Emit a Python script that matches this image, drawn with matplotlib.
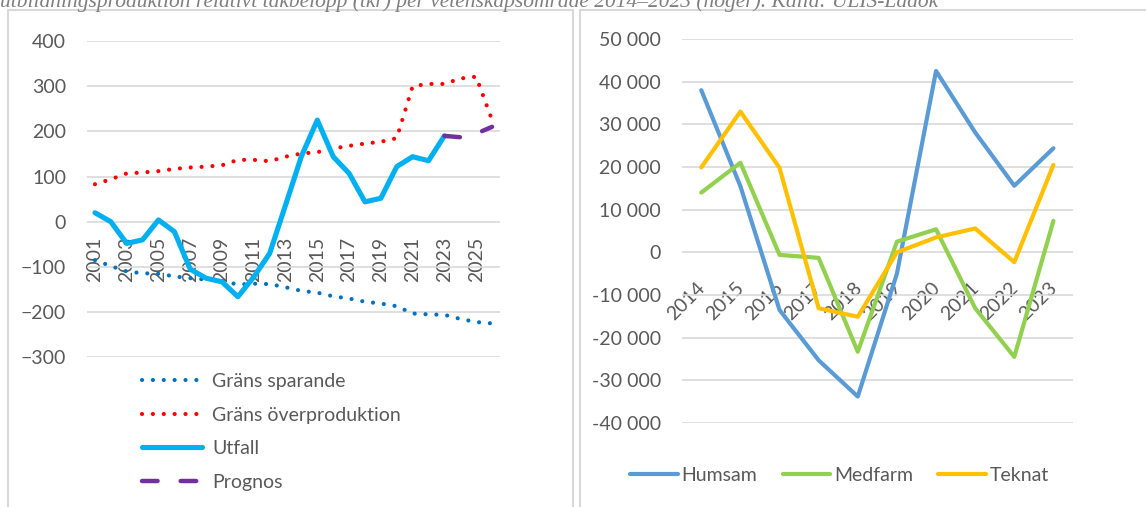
import numpy as np
import matplotlib
matplotlib.use('Agg')
import matplotlib.pyplot as plt
import matplotlib.transforms as mtransforms
from matplotlib.patches import Rectangle
from matplotlib.ticker import FuncFormatter

nan = np.nan

# left chart: 2001-2026
years_left = list(range(2001, 2027))
grans_sparande = [-85, -98, -110, -114, -115, -121, -125, -128, -131, -139, -137, -138, -145,
                  -153, -157, -165, -170, -177, -181, -187, -203, -205, -206, -215, -222, -225]
grans_overprod = [83, 94, 107, 109, 112, 117, 120, 122, 125, 137, 137, 134, 144,
                  151, 154, 162, 168, 173, 177, 185, 300, 305, 305, 317, 321, 225]
utfall = [20, 0, -48, -40, 4, -22, -105, -125, -133, -166, -122, -70, 37,
          145, 225, 144, 107, 44, 52, 122, 144, 135, 190, nan, nan, nan]
prognos = [nan] * 22 + [190, 187, 195, 210]

# right chart: 2014-2023
years_right = list(range(2014, 2024))
humsam = [38000, 15500, -13500, -25300, -33800, -5000, 42500, 28100, 15600, 24400]
medfarm = [14000, 21000, -600, -1300, -23300, 2500, 5400, -13100, -24500, 7400]
teknat = [19900, 33000, 19800, -13100, -15100, 0, 3500, 5600, -2300, 20500]

title = ("utbildningsproduktion relativt takbelopp (tkr) per vetenskapsområde "
         "2014–2023 (höger). Källa: ULIS-Ladok")

plt.rcParams['font.family'] = ['Lato', 'DejaVu Sans']
TXT = '#595959'
GRID = '#D9D9D9'
FS = 14

W, H = 1146, 507
fig = plt.figure(figsize=(W / 100, H / 100), dpi=100)


def px_axes(x0, y0, x1, y1):
    return fig.add_axes([x0 / W, 1 - y1 / H, (x1 - x0) / W, (y1 - y0) / H])


def style_axes(ax):
    for s in ax.spines.values():
        s.set_visible(False)
    ax.spines['bottom'].set_position(('data', 0))
    ax.yaxis.grid(True, color=GRID, lw=1.2)
    ax.set_axisbelow(True)
    ax.tick_params(axis='both', length=0, labelsize=FS, labelcolor=TXT)
    ax.tick_params(axis='y', pad=15)


# ---- left
ax1 = px_axes(87, 41, 500, 357.3)
x1 = np.arange(len(years_left))
ax1.plot(x1, grans_sparande, color='#0070C0', lw=3, ls=(0, (0.01, 2.6)),
         dash_capstyle='round', label='Gräns sparande')
ax1.plot(x1, grans_overprod, color='#FF0000', lw=3, ls=(0, (0.01, 2.6)),
         dash_capstyle='round', label='Gräns överproduktion')
ax1.plot(x1, utfall, color='#00B0F0', lw=3.7, solid_capstyle='round',
         solid_joinstyle='round', label='Utfall')
ax1.plot(x1, prognos, color='#7030A0', lw=3.2, ls=(0, (3.5, 5.2)),
         dash_capstyle='round', label='Prognos')
ax1.set_xlim(-0.5, len(years_left) - 0.5)
ax1.set_ylim(-300, 400)
ax1.set_yticks(range(-300, 401, 100))
style_axes(ax1)
ax1.set_xticks(x1[::2], [str(y) for y in years_left[::2]])
ax1.tick_params(axis='x', pad=11, labelrotation=90)

fig.legend(*ax1.get_legend_handles_labels(), loc='upper left',
           bbox_to_anchor=(142 / W, 1 - 373 / H), frameon=False, fontsize=FS,
           labelcolor=TXT, handlelength=3.1, handletextpad=0.5,
           labelspacing=0.85, borderpad=0, borderaxespad=0)

# ---- right
ax2 = px_axes(681.7, 39, 1073, 423)
x2 = np.arange(len(years_right))
ax2.plot(x2, humsam, color='#5B9BD5', lw=3, solid_capstyle='round',
         solid_joinstyle='round', label='Humsam')
ax2.plot(x2, medfarm, color='#92D050', lw=3, solid_capstyle='round',
         solid_joinstyle='round', label='Medfarm')
ax2.plot(x2, teknat, color='#FFC000', lw=3, solid_capstyle='round',
         solid_joinstyle='round', label='Teknat')
ax2.set_xlim(-0.5, len(years_right) - 0.5)
ax2.set_ylim(-40000, 50000)
ax2.set_yticks(range(-40000, 50001, 10000))
ax2.yaxis.set_major_formatter(FuncFormatter(lambda v, p: f"{int(v):,}".replace(",", " ")))
style_axes(ax2)
ax2.set_xticks(x2, [str(y) for y in years_right])
ax2.tick_params(axis='x', pad=19)
shift = mtransforms.ScaledTranslation(7 / 100, 0, fig.dpi_scale_trans)
for lab in ax2.get_xticklabels():
    lab.set_rotation(45)
    lab.set_ha('right')
    lab.set_va('top')
    lab.set_transform(lab.get_transform() + shift)

fig.legend(*ax2.get_legend_handles_labels(), loc='upper left',
           bbox_to_anchor=(630 / W, 1 - 467 / H), ncol=3, frameon=False,
           fontsize=FS, labelcolor=TXT, handlelength=2.45, handletextpad=0.2,
           columnspacing=1.3, borderpad=0, borderaxespad=0)

# panel frames (bottom runs off the page)
fig.add_artist(Rectangle((8 / W, -0.1), (573 - 8) / W, 1.1 - 10 / H,
                         transform=fig.transFigure, fill=False, ec=GRID, lw=1.5))
fig.add_artist(Rectangle((580 / W, -0.1), 0.6, 1.1 - 10 / H,
                         transform=fig.transFigure, fill=False, ec=GRID, lw=1.5))

# caption, cut off at the top as in the source page
fig.text(0, 1 - 7.5 / H, title, fontsize=15.5, style='italic', family='Liberation Serif',
         color='#7F7F7F', ha='left', va='baseline')

fig.savefig('out.png', dpi=100)
